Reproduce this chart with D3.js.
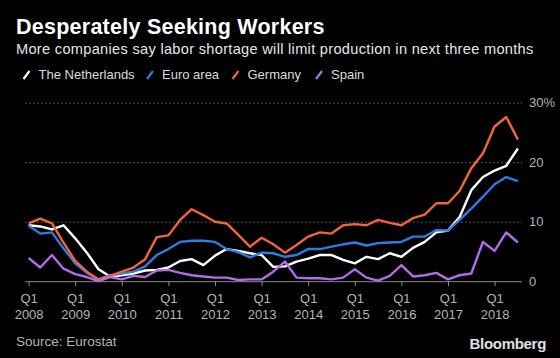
<!DOCTYPE html>
<html>
<head>
<meta charset="utf-8">
<script src="https://cdn.jsdelivr.net/npm/d3@7"></script>
<style>
  body { margin: 0; background: #000; }
  svg { display: block; background: #000; font-family: "Liberation Sans", Arial, sans-serif; }
</style>
</head>
<body>
<div id="chart"></div>
<script>
// quarterly data, Q1 2008 .. Q3 2018 (% of firms citing labour shortage)
var years = [2008, 2009, 2010, 2011, 2012, 2013, 2014, 2015, 2016, 2017, 2018];
var quarters = years.flatMap(function(y) {
  return ["Q1", "Q2", "Q3", "Q4"].map(function(q) { return q + " " + y; });
}).slice(0, 43);

var netherlands = [9.4, 9.2, 8.7, 9.4, 7.2, 4.8, 2.0, 0.8, 1.0, 1.3, 1.8, 1.9, 2.3, 3.4, 3.7, 2.7,
  4.3, 5.4, 5.1, 4.7, 4.4, 2.4, 2.5, 3.3, 3.8, 4.4, 4.4, 3.6, 3.0, 4.1, 3.7, 4.7,
  4.1, 5.6, 6.6, 8.2, 8.5, 10.8, 15.3, 17.5, 18.6, 19.4, 22.3];
var euroArea = [9.3, 8.0, 8.2, 5.5, 3.0, 1.4, 0.3, 1.0, 1.3, 1.6, 2.5, 4.4, 5.4, 6.6, 6.8, 6.8,
  6.6, 5.4, 4.9, 4.0, 4.8, 4.7, 4.1, 4.4, 5.4, 5.4, 5.8, 6.2, 6.5, 6.0, 6.4, 6.5,
  6.6, 7.5, 7.5, 8.6, 8.5, 10.3, 12.2, 14.2, 16.3, 17.5, 16.8];
var germany = [9.7, 10.5, 9.7, 6.5, 3.4, 1.6, 0.3, 0.9, 1.6, 2.3, 3.7, 7.4, 7.7, 10.3, 12.1, 11.1,
  10.0, 9.7, 7.8, 5.8, 7.3, 6.2, 4.8, 6.1, 7.5, 8.2, 8.0, 9.4, 9.6, 9.4, 10.3, 9.8,
  9.4, 10.6, 11.2, 13.1, 13.1, 15.2, 19.0, 21.5, 26.0, 27.6, 23.8];
var spain = [3.9, 2.3, 4.4, 2.1, 1.2, 0.7, 0.0, 0.7, 0.3, 0.9, 0.7, 1.8, 1.9, 1.4, 1.0, 0.8,
  0.6, 0.6, 0.2, 0.3, 0.3, 1.6, 3.3, 0.6, 0.5, 0.5, 0.3, 0.6, 2.0, 0.6, 0.1, 0.9,
  2.7, 0.8, 1.0, 1.4, 0.3, 1.0, 1.3, 6.6, 5.1, 8.2, 6.5];

var seriesNames = ["The Netherlands", "Euro area", "Germany", "Spain"];
var seriesValues = [netherlands, euroArea, germany, spain];
var colors = ["#ffffff", "#2a7de1", "#f2643a", "#b36be8"];
var yTicks = [0, 10, 20, 30];

var width = 560, height = 358;
var svg = d3.select("#chart").append("svg")
  .attr("width", width)
  .attr("height", height);

var x = d3.scalePoint().domain(quarters).range([28.6, 517.9]);
var y = d3.scaleLinear().domain([0, 30]).range([281.2, 102.7]);

// titles
svg.append("text")
  .attr("x", 16).attr("y", 34)
  .attr("fill", "#fff")
  .style("font-size", "21.5px").style("font-weight", "bold")
  .style("letter-spacing", "0.25px")
  .text("Desperately Seeking Workers");

svg.append("text")
  .attr("x", 16).attr("y", 54)
  .attr("fill", "#e6e6e6")
  .style("font-size", "14.6px")
  .style("letter-spacing", "0.3px")
  .text("More companies say labor shortage will limit production in next three months");

// legend
var legendX = [38.5, 162, 247.5, 331];
var legend = svg.selectAll(".legend")
  .data(seriesNames)
  .enter().append("g")
  .attr("class", "legend")
  .attr("transform", function(d, i) { return "translate(" + legendX[i] + ",79)"; });

legend.append("line")
  .attr("x1", -15).attr("y1", 0)
  .attr("x2", -9).attr("y2", -8)
  .attr("stroke", function(d, i) { return colors[i]; })
  .attr("stroke-width", 2.2);

legend.append("text")
  .attr("fill", "#dcdcdc")
  .style("font-size", "13px")
  .text(function(d) { return d; });

// gridlines + right labels
var yAxis = svg.append("g")
  .attr("transform", "translate(25,0)")
  .call(d3.axisRight(y).tickValues(yTicks).tickSize(497).tickPadding(7)
    .tickFormat(function(d) { return d === 30 ? "30%" : d; }));

yAxis.select(".domain").remove();
yAxis.selectAll(".tick line")
  .attr("stroke", function(d) { return d === 0 ? "#8a8a8a" : "#6e6e6e"; })
  .attr("stroke-dasharray", function(d) { return d === 0 ? null : "1.5,2.5"; });
yAxis.selectAll(".tick text")
  .attr("fill", "#b4b4b4")
  .style("font-size", "13px")
  .style("font-family", "Liberation Sans, Arial, sans-serif");

// x axis
var xAxis = svg.append("g")
  .attr("transform", "translate(0," + y(0) + ")")
  .call(d3.axisBottom(x)
    .tickValues(quarters.filter(function(d) { return d.indexOf("Q1") === 0; }))
    .tickSize(5).tickFormat(""));

xAxis.select(".domain").remove();
xAxis.selectAll(".tick line").attr("stroke", "#8a8a8a");

var labels = xAxis.selectAll(".tick").append("text")
  .attr("fill", "#b4b4b4")
  .attr("text-anchor", "middle")
  .style("font-size", "13px")
  .style("font-family", "Liberation Sans, Arial, sans-serif");
labels.append("tspan").attr("x", 0).attr("y", 22)
  .text(function(d) { return d.split(" ")[0]; });
labels.append("tspan").attr("x", 0).attr("y", 37.5)
  .text(function(d) { return d.split(" ")[1]; });

// lines
var line = d3.line()
  .x(function(d, i) { return x(quarters[i]); })
  .y(function(d) { return y(d); });

svg.selectAll(".series")
  .data(seriesValues)
  .enter().append("path")
  .attr("class", "series")
  .attr("fill", "none")
  .attr("stroke", function(d, i) { return colors[i]; })
  .attr("stroke-width", 2.4)
  .attr("stroke-linejoin", "round")
  .attr("d", line);

// footer
svg.append("text")
  .attr("x", 16).attr("y", 346)
  .attr("fill", "#b4b4b4")
  .style("font-size", "13.5px")
  .text("Source: Eurostat");

svg.append("text")
  .attr("x", 546).attr("y", 349)
  .attr("text-anchor", "end")
  .attr("fill", "#e0e0e0")
  .style("font-size", "15px").style("font-weight", "bold")
  .style("letter-spacing", "-0.3px")
  .text("Bloomberg");
</script>
</body>
</html>
